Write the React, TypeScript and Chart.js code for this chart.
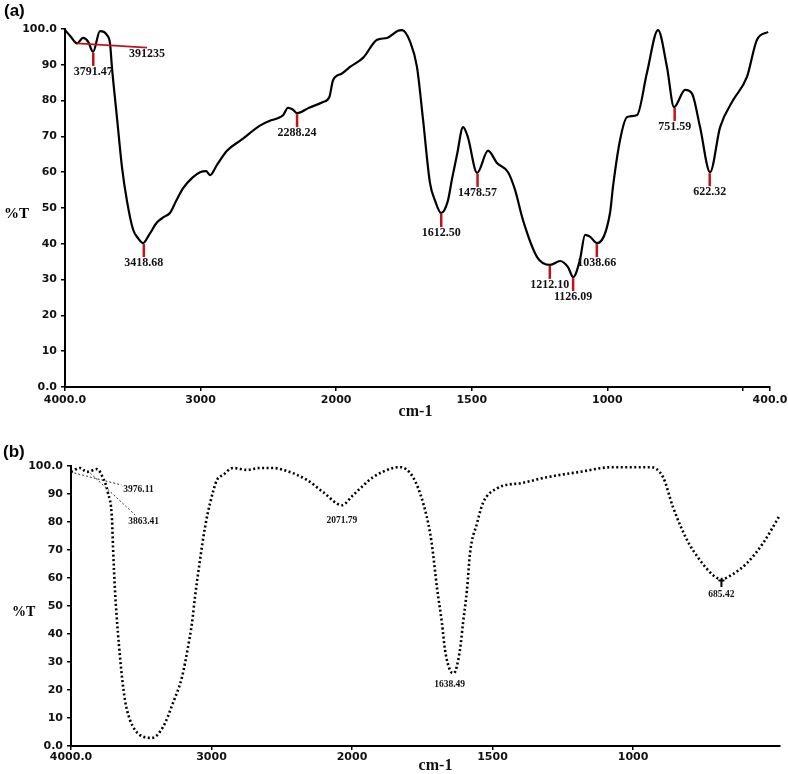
import React, { useEffect, useRef } from 'react';
import { Chart, registerables } from 'chart.js';
Chart.register(...registerables);

// ---------- Panel (a) data ----------
const wavenumbersA = [4000, 3960, 3911, 3867, 3830, 3793, 3742, 3690, 3668, 3653, 3616, 3580, 3543, 3498, 3460, 3424, 3380, 3321, 3270, 3226, 3180, 3130, 3060, 3004, 2960, 2930, 2880, 2805, 2700, 2562, 2480, 2436, 2390, 2355, 2320, 2288, 2200, 2097, 2050, 2023, 1980, 1949, 1900, 1849, 1812, 1772, 1757, 1727, 1702, 1680, 1654, 1635, 1613, 1588, 1573, 1554, 1532, 1515, 1480, 1440, 1407, 1366, 1340, 1311, 1259, 1211, 1174, 1145, 1126, 1101, 1082, 1064, 1038, 990, 979, 953, 927, 890, 854, 813, 780, 754, 713, 688, 658, 621, 584, 537, 485, 448, 407];
const transmittanceA = [99.7, 98.0, 96.0, 97.5, 96.5, 93.6, 99.4, 98.3, 96.0, 89.0, 75.0, 61.5, 52.0, 44.0, 41.5, 40.2, 42.5, 46.0, 47.5, 48.6, 52.0, 55.5, 58.5, 60.0, 60.3, 59.2, 62.0, 66.0, 69.0, 73.0, 74.5, 75.0, 76.0, 78.0, 77.5, 76.5, 78.0, 79.6, 81.0, 85.7, 87.5, 89.4, 92.0, 97.0, 97.5, 99.5, 99.7, 96.4, 89.4, 75.0, 57.0, 52.0, 48.6, 52.0, 58.0, 65.0, 72.6, 70.0, 59.8, 66.0, 62.6, 60.0, 55.0, 46.6, 36.3, 34.1, 35.2, 33.5, 30.7, 35.5, 42.5, 42.0, 40.2, 48.6, 56.0, 69.0, 75.4, 76.0, 87.7, 99.7, 89.4, 78.2, 83.0, 82.0, 72.6, 60.0, 72.6, 80.0, 86.6, 97.0, 99.2];
const peaksA = [3791.47, 3418.68, 2288.24, 1612.50, 1478.57, 1212.10, 1126.09, 1038.66, 751.59, 622.32];
const peakLabelsA = ['3791.47', '3418.68', '2288.24', '1612.50', '1478.57', '1212.10', '1126.09', '1038.66', '751.59', '622.32'];
const peakTA = [93.6, 40.2, 76.5, 48.6, 59.8, 34.1, 30.7, 40.2, 78.2, 60.0];
const baselineA = { fromW: 3911, fromT: 96.0, toW: 3395, toT: 94.8, label: '391235' };
const xTicksA = [4000, 3000, 2000, 1500, 1000, 500, 400];
const xTickLabelsA = ['4000.0', '3000', '2000', '1500', '1000', '', '400.0'];

// ---------- Panel (b) data ----------
const wavenumbersB = [4000, 3936, 3886, 3815, 3772, 3737, 3708, 3701, 3687, 3666, 3637, 3616, 3580, 3509, 3424, 3345, 3274, 3210, 3167, 3139, 3118, 3082, 3046, 3010, 2961, 2918, 2847, 2747, 2655, 2562, 2463, 2320, 2206, 2072, 1996, 1925, 1854, 1829, 1783, 1747, 1722, 1712, 1698, 1680, 1669, 1651, 1638, 1616, 1605, 1591, 1580, 1555, 1534, 1484, 1392, 1306, 1189, 1071, 940, 893, 858, 808, 762, 715, 686, 644, 594, 537, 477];
const transmittanceB = [97.9, 99.3, 97.9, 98.9, 95.7, 90.4, 80.7, 71.0, 55.7, 40.4, 24.6, 16.4, 9.3, 3.9, 2.9, 6.8, 15.4, 24.6, 35.4, 43.9, 53.0, 66.4, 78.2, 86.8, 95.0, 96.8, 99.3, 98.6, 99.3, 99.3, 98.2, 95.0, 90.7, 86.0, 89.6, 96.0, 99.3, 99.6, 96.0, 86.8, 76.0, 69.0, 56.8, 43.9, 34.3, 27.0, 26.0, 34.3, 43.9, 55.7, 69.0, 79.6, 86.8, 92.0, 94.0, 96.0, 97.9, 99.6, 99.6, 96.0, 85.4, 73.6, 66.4, 61.0, 59.6, 61.4, 65.4, 72.5, 82.5];
const peaksB = [2071.79, 1638.49, 685.42];
const peakLabelsB = ['2071.79', '1638.49', '685.42'];
const peakTB = [86.0, 26.0, 59.6];
const leadersB = [3976.11, 3863.41];
const leaderLabelsB = ['3976.11', '3863.41'];
const leaderTB = [97.5, 97.5];
const xTicksB = [4000, 3000, 2000, 1500, 1000];
const xTickLabelsB = ['4000.0', '3000', '2000', '1500', '1000'];
const minWB = 477;
const xTitle = 'cm-1';
const yTitle = '%T';

// wavenumber axis is compressed 2:1 above 2000 cm-1
const toU = (w: number) => (w <= 2000 ? w : 2000 + (w - 2000) / 2);

const RED = '#c4121b';

function panelPlugin(kind: 'a' | 'b') {
  return {
    id: 'panel_' + kind,
    afterDraw(chart: any) {
      const { ctx } = chart;
      const xs = chart.scales.x;
      const ys = chart.scales.y;
      const px = (w: number) => xs.getPixelForValue(toU(w));
      const py = (t: number) => ys.getPixelForValue(t);
      ctx.save();
      ctx.fillStyle = '#000';
      ctx.textBaseline = 'middle';
      ctx.textAlign = 'left';
      ctx.font = 'bold 17px "Liberation Sans"';
      if (kind === 'a') ctx.fillText('(a)', 4, 11);
      else ctx.fillText('(b)', 3, 32);
      ctx.font = kind === 'a' ? 'bold 15px "Liberation Serif"' : 'bold 14px "Liberation Serif"';
      const mid = (ys.top + ys.bottom) / 2;
      ctx.fillText(yTitle, kind === 'a' ? 4 : 12, mid + 6);
      // x-axis title
      ctx.font = 'bold 16px "Liberation Serif"';
      ctx.textAlign = 'center';
      ctx.fillStyle = '#111';
      const cx = (xs.left + xs.right) / 2 + (kind === 'a' ? -2 : 10);
      ctx.fillText(xTitle, cx, kind === 'a' ? 412 : 346);

      if (kind === 'a') {
        ctx.strokeStyle = RED;
        const bx0 = px(baselineA.fromW), by0 = py(baselineA.fromT);
        const bx1 = px(baselineA.toW), by1 = py(baselineA.toT);
        ctx.lineWidth = 1.8;
        ctx.beginPath();
        ctx.moveTo(bx0, by0);
        ctx.lineTo(bx1, by1);
        ctx.stroke();
        ctx.font = 'bold 12px "Liberation Serif"';
        ctx.fillStyle = '#111';
        ctx.textAlign = 'center';
        ctx.fillText(baselineA.label, bx1, by1 + 6);
        ctx.lineWidth = 2.5;
        peaksA.forEach((w, i) => {
          const x = px(w);
          const y = py(peakTA[i]);
          ctx.strokeStyle = RED;
          ctx.beginPath();
          ctx.moveTo(x, y + 1);
          ctx.lineTo(x, y + 14);
          ctx.stroke();
          ctx.fillText(peakLabelsA[i], x, y + 20);
        });
      } else {
        ctx.font = 'bold 9.5px "Liberation Serif"';
        ctx.fillStyle = '#111';
        ctx.strokeStyle = '#333';
        ctx.lineWidth = 1;
        const leaderOffsets = [[47, 12, 2, 5], [45, 42, -7, 7]];
        leadersB.forEach((w, i) => {
          const x = px(w);
          const y = py(leaderTB[i]);
          const [dx, dy, lx, ly] = leaderOffsets[i];
          ctx.setLineDash([2, 2]);
          ctx.beginPath();
          ctx.moveTo(x, y);
          ctx.lineTo(x + dx, y + dy);
          ctx.stroke();
          ctx.setLineDash([]);
          ctx.textAlign = 'left';
          ctx.fillText(leaderLabelsB[i], x + dx + lx, y + dy + ly);
        });
        ctx.textAlign = 'center';
        peaksB.forEach((w, i) => {
          const x = px(w);
          const y = py(peakTB[i]);
          if (i === 2) {
            ctx.strokeStyle = '#000';
            ctx.lineWidth = 2;
            ctx.beginPath();
            ctx.moveTo(x, y + 1);
            ctx.lineTo(x, y + 8);
            ctx.moveTo(x - 3, y + 1.5);
            ctx.lineTo(x + 3, y + 1.5);
            ctx.stroke();
          }
          ctx.fillText(peakLabelsB[i], x - (i === 1 ? 4 : 0), y + (i === 1 ? 11 : 15));
        });
      }
      ctx.restore();
    },
  };
}

function makeConfig(kind: 'a' | 'b'): any {
  const isA = kind === 'a';
  const ws = isA ? wavenumbersA : wavenumbersB;
  const ts = isA ? transmittanceA : transmittanceB;
  const ticks = isA ? xTicksA : xTicksB;
  const tickLabels = isA ? xTickLabelsA : xTickLabelsB;
  const yWidth = isA ? 65 : 71;
  const xHeight = isA ? 33 : 28;
  const tickFont = { family: 'DejaVu Sans', size: 11, weight: 'bold' as const };
  return {
    type: 'line',
    data: {
      datasets: [
        {
          data: ws.map((w, i) => ({ x: toU(w), y: ts[i] })),
          borderColor: '#000',
          borderWidth: isA ? 2.2 : 2.6,
          borderDash: isA ? [] : [2, 2.5],
          pointRadius: 0,
          fill: false,
          cubicInterpolationMode: 'monotone',
        },
      ],
    },
    options: {
      responsive: false,
      animation: false,
      devicePixelRatio: 1,
      layout: { padding: isA ? { left: 0, right: 18, top: 29, bottom: 0 } : { left: 0, right: 8, top: 46, bottom: 0 } },
      plugins: { legend: { display: false }, tooltip: { enabled: false }, title: { display: false } },
      scales: {
        x: {
          type: 'linear',
          reverse: true,
          min: toU(isA ? 400 : minWB),
          max: toU(4000),
          afterBuildTicks: (s: any) => {
            s.ticks = ticks.map((w) => ({ value: toU(w) }));
          },
          afterFit: (s: any) => {
            s.height = xHeight;
            s.paddingLeft = 0;
            s.paddingRight = 0;
          },
          ticks: {
            autoSkip: false,
            maxRotation: 0,
            minRotation: 0,
            padding: isA ? 3 : 1,
            color: '#111',
            font: tickFont,
            callback: (v: number) => {
              const i = ticks.findIndex((w) => Math.abs(toU(w) - v) < 0.01);
              return i >= 0 ? tickLabels[i] : '';
            },
          },
          grid: { display: true, drawOnChartArea: false, drawTicks: true, tickLength: 4, color: '#000', lineWidth: 1.5 },
          border: { display: true, color: '#000', width: 2 },
          title: { display: false },
        },
        y: {
          type: 'linear',
          min: 0,
          max: 100,
          afterFit: (s: any) => {
            s.width = yWidth;
          },
          ticks: {
            stepSize: 10,
            padding: 4,
            color: '#111',
            font: tickFont,
            callback: (v: number) => (v === 100 ? '100.0' : v === 0 ? '0.0' : String(v)),
          },
          grid: { display: true, drawOnChartArea: false, drawTicks: true, tickLength: 4, color: '#000', lineWidth: 1.5 },
          border: { display: true, color: '#000', width: 2 },
        },
      },
    },
    plugins: [panelPlugin(kind)],
  };
}

export default function App() {
  const refA = useRef<HTMLCanvasElement>(null);
  const refB = useRef<HTMLCanvasElement>(null);
  useEffect(() => {
    const a = new Chart(refA.current!, makeConfig('a'));
    const b = new Chart(refB.current!, makeConfig('b'));
    return () => {
      a.destroy();
      b.destroy();
    };
  }, []);
  return (
    <div style={{ position: 'absolute', left: 0, top: 0, width: 788, height: 774, background: '#fff' }}>
      <canvas ref={refA} width={788} height={420} style={{ position: 'absolute', left: 0, top: 0, width: 788, height: 420 }} />
      <canvas ref={refB} width={788} height={354} style={{ position: 'absolute', left: 0, top: 420, width: 788, height: 354 }} />
    </div>
  );
}
